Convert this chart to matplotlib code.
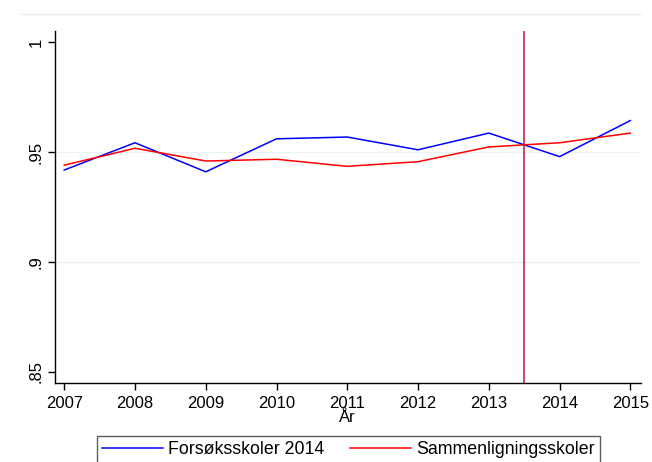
import matplotlib
matplotlib.use("Agg")
import matplotlib.pyplot as plt
from matplotlib.lines import Line2D

years = [2007, 2008, 2009, 2010, 2011, 2012, 2013, 2014, 2015]
forsok = [0.9418, 0.9542, 0.9410, 0.9560, 0.9568, 0.9510, 0.9586, 0.9479, 0.9643]
sammen = [0.9440, 0.9517, 0.9459, 0.9467, 0.9435, 0.9456, 0.9523, 0.9542, 0.9586]
yticks = [0.85, 0.9, 0.95, 1.0]
ytick_labels = [".85", ".9", ".95", "1"]
vline_x = 2013.5

plt.rcParams['font.family'] = ['Liberation Sans', 'DejaVu Sans']

W, H = 652, 462
fig = plt.figure(figsize=(W / 100, H / 100), dpi=100)
fig.patch.set_facecolor('white')

# faint top line of graph region
fig.add_artist(Line2D([20 / W, 640 / W], [1 - 14 / H, 1 - 14 / H], color='#ebebeb', lw=1))

ax = fig.add_axes([55 / W, 1 - 383 / H, (641 - 55) / W, (383 - 31) / H])
ax.plot(years, forsok, color='#0000ff', lw=1.1, label='Forsøksskoler 2014')
ax.plot(years, sammen, color='#ff0000', lw=1.1, label='Sammenligningsskoler')
ax.axvline(vline_x, color='#c0143c', lw=1.1)

ax.set_xlim(2006.87, 2015.15)
ax.set_ylim(0.845, 1.005)
ax.set_yticks(yticks)
ax.set_yticklabels(ytick_labels, rotation=90, va='center')
ax.set_xticks(years)
ax.set_xticklabels([str(y) for y in years])
ax.tick_params(axis='both', labelsize=12, length=5, width=1, color='black')
ax.tick_params(axis='y', pad=3)
ax.tick_params(axis='x', pad=4)
for y in [0.9, 0.95]:
    ax.axhline(y, color='#eaf2f3', lw=1, zorder=0)
for s in ['top', 'right']:
    ax.spines[s].set_visible(False)
for s in ['left', 'bottom']:
    ax.spines[s].set_linewidth(1)
    ax.spines[s].set_color('black')

fig.text(347 / W, 1 - 418 / H, 'År', ha='center', va='center', fontsize=12)

leg = fig.legend(loc='upper left', bbox_to_anchor=(97 / W, 1 - 436 / H), ncol=2,
                 borderaxespad=0,
                 frameon=True, fancybox=False, edgecolor='black', fontsize=12.8,
                 handlelength=3.4, columnspacing=1.45, borderpad=0.3, handletextpad=0.3)
leg.get_frame().set_linewidth(1)
leg.get_frame().set_edgecolor('#333333')

fig.savefig('out.png', dpi=100)
